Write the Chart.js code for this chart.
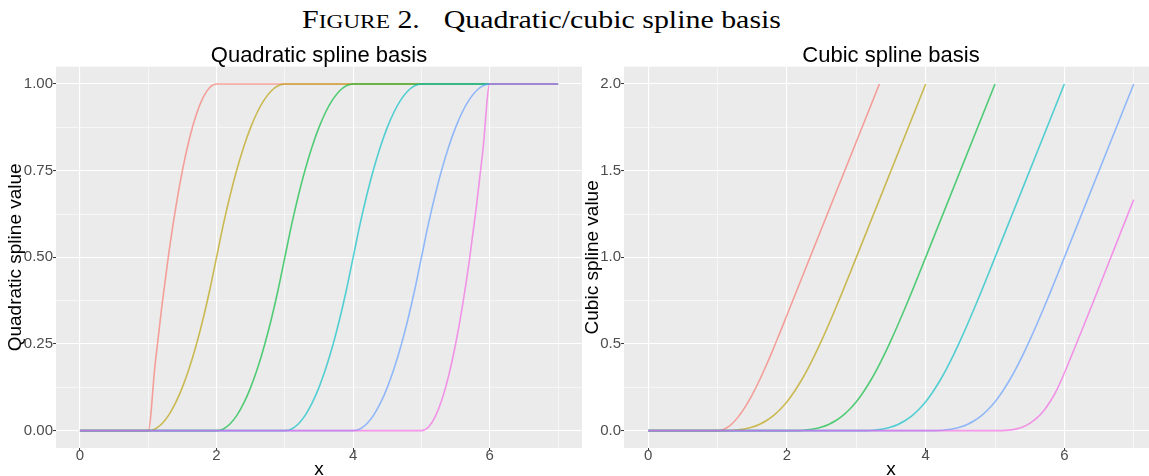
<!DOCTYPE html>
<html>
<head>
<meta charset="utf-8">
<script src="https://cdn.jsdelivr.net/npm/chart.js@4.4.1/dist/chart.umd.min.js"></script>
<style>
  html, body { margin: 0; padding: 0; background: #fff; overflow: hidden; }
  body { width: 1149px; height: 476px; position: relative; }
  #fig-title {
    position: absolute; left: 302px; top: 7px;
    font-family: 'Liberation Serif', 'DejaVu Serif', serif;
    font-size: 25px; line-height: 25px; white-space: nowrap;
    transform-origin: 0 0; color: #000;
  }
  #fig-title .lead { margin-right: 20px; }
  #fig-title small { font-size: 0.78em; }
  canvas { position: absolute; top: 0; }
  #quad { left: 0; }
  #cubic { left: 577px; }
</style>
</head>
<body>
<div id="fig-title"><span class="lead">F<small>IGURE</small> 2.</span>Quadratic/cubic spline basis</div>
<canvas id="quad" width="582" height="476"></canvas>
<canvas id="cubic" width="581" height="476"></canvas>
<script>
// basis functions, one per knot
const basisNames = ['B1', 'B2', 'B3', 'B4', 'B5', 'B6'];
const lineColors = ['#F8766D', '#B79F00', '#00BA38', '#00BFC4', '#619CFF', '#F564E3'];

// quadratic spline basis
const quadX1 = [0, 1, 1.1, 1.2, 1.3, 1.4, 1.5, 1.6, 1.7, 1.8, 1.9, 2, 7];
const quadY1 = [0, 0, 0.19, 0.36, 0.51, 0.64, 0.75, 0.84, 0.91, 0.96, 0.99, 1, 1];
const quadX2 = [0, 1, 1.1, 1.2, 1.3, 1.4, 1.5, 1.6, 1.7, 1.8, 1.9, 2, 2.1, 2.2, 2.3, 2.4, 2.5, 2.6, 2.7, 2.8, 2.9, 3, 7];
const quadY2 = [0, 0, 0.005, 0.02, 0.045, 0.08, 0.125, 0.18, 0.245, 0.32, 0.405, 0.5, 0.595, 0.68, 0.755, 0.82, 0.875, 0.92, 0.955, 0.98, 0.995, 1, 1];
const quadX3 = [0, 2, 2.1, 2.2, 2.3, 2.4, 2.5, 2.6, 2.7, 2.8, 2.9, 3, 3.1, 3.2, 3.3, 3.4, 3.5, 3.6, 3.7, 3.8, 3.9, 4, 7];
const quadY3 = [0, 0, 0.005, 0.02, 0.045, 0.08, 0.125, 0.18, 0.245, 0.32, 0.405, 0.5, 0.595, 0.68, 0.755, 0.82, 0.875, 0.92, 0.955, 0.98, 0.995, 1, 1];
const quadX4 = [0, 3, 3.1, 3.2, 3.3, 3.4, 3.5, 3.6, 3.7, 3.8, 3.9, 4, 4.1, 4.2, 4.3, 4.4, 4.5, 4.6, 4.7, 4.8, 4.9, 5, 7];
const quadY4 = [0, 0, 0.005, 0.02, 0.045, 0.08, 0.125, 0.18, 0.245, 0.32, 0.405, 0.5, 0.595, 0.68, 0.755, 0.82, 0.875, 0.92, 0.955, 0.98, 0.995, 1, 1];
const quadX5 = [0, 4, 4.1, 4.2, 4.3, 4.4, 4.5, 4.6, 4.7, 4.8, 4.9, 5, 5.1, 5.2, 5.3, 5.4, 5.5, 5.6, 5.7, 5.8, 5.9, 6, 7];
const quadY5 = [0, 0, 0.005, 0.02, 0.045, 0.08, 0.125, 0.18, 0.245, 0.32, 0.405, 0.5, 0.595, 0.68, 0.755, 0.82, 0.875, 0.92, 0.955, 0.98, 0.995, 1, 1];
const quadX6 = [0, 5, 5.1, 5.2, 5.3, 5.4, 5.5, 5.6, 5.7, 5.8, 5.9, 6, 7];
const quadY6 = [0, 0, 0.01, 0.04, 0.09, 0.16, 0.25, 0.36, 0.49, 0.64, 0.81, 1, 1];

// cubic spline basis (cut at 2.0)
const cubX1 = [0, 1, 1.1, 1.2, 1.3, 1.4, 1.5, 1.6, 1.7, 1.8, 1.9, 2, 3.333];
const cubY1 = [0, 0, 0.010, 0.037, 0.081, 0.139, 0.208, 0.288, 0.376, 0.469, 0.567, 0.667, 2];
const cubX2 = [0, 1, 1.1, 1.2, 1.3, 1.4, 1.5, 1.6, 1.7, 1.8, 1.9, 2, 2.1, 2.2, 2.3, 2.4, 2.5, 2.6, 2.7, 2.8, 2.9, 3, 4];
const cubY2 = [0, 0, 0.0002, 0.001, 0.005, 0.011, 0.021, 0.036, 0.057, 0.085, 0.122, 0.167, 0.222, 0.285, 0.357, 0.436, 0.521, 0.611, 0.705, 0.801, 0.9, 1, 2];
const cubX3 = [0, 2, 2.1, 2.2, 2.3, 2.4, 2.5, 2.6, 2.7, 2.8, 2.9, 3, 3.1, 3.2, 3.3, 3.4, 3.5, 3.6, 3.7, 3.8, 3.9, 4, 5];
const cubY3 = [0, 0, 0.0002, 0.001, 0.005, 0.011, 0.021, 0.036, 0.057, 0.085, 0.122, 0.167, 0.222, 0.285, 0.357, 0.436, 0.521, 0.611, 0.705, 0.801, 0.9, 1, 2];
const cubX4 = [0, 3, 3.1, 3.2, 3.3, 3.4, 3.5, 3.6, 3.7, 3.8, 3.9, 4, 4.1, 4.2, 4.3, 4.4, 4.5, 4.6, 4.7, 4.8, 4.9, 5, 6];
const cubY4 = [0, 0, 0.0002, 0.001, 0.005, 0.011, 0.021, 0.036, 0.057, 0.085, 0.122, 0.167, 0.222, 0.285, 0.357, 0.436, 0.521, 0.611, 0.705, 0.801, 0.9, 1, 2];
const cubX5 = [0, 4, 4.1, 4.2, 4.3, 4.4, 4.5, 4.6, 4.7, 4.8, 4.9, 5, 5.1, 5.2, 5.3, 5.4, 5.5, 5.6, 5.7, 5.8, 5.9, 6, 7];
const cubY5 = [0, 0, 0.0002, 0.001, 0.005, 0.011, 0.021, 0.036, 0.057, 0.085, 0.122, 0.167, 0.222, 0.285, 0.357, 0.436, 0.521, 0.611, 0.705, 0.801, 0.9, 1, 2];
const cubX6 = [0, 5, 5.1, 5.2, 5.3, 5.4, 5.5, 5.6, 5.7, 5.8, 5.9, 6, 7];
const cubY6 = [0, 0, 0.0003, 0.003, 0.009, 0.021, 0.042, 0.072, 0.114, 0.171, 0.243, 0.333, 1.333];

// axis ticks
const xTicks = [0, 1, 2, 3, 4, 5, 6, 7];
const xMajor = [0, 2, 4, 6];
const quadYTicks = [0, 0.125, 0.25, 0.375, 0.5, 0.625, 0.75, 0.875, 1];
const quadYMajor = [0, 0.25, 0.5, 0.75, 1];
const quadYLabels = ['0.00', '0.25', '0.50', '0.75', '1.00'];
const cubYTicks = [0, 0.25, 0.5, 0.75, 1, 1.25, 1.5, 1.75, 2];
const cubYMajor = [0, 0.5, 1, 1.5, 2];
const cubYLabels = ['0.0', '0.5', '1.0', '1.5', '2.0'];

const tickFont = { family: 'Liberation Sans', size: 15, lineHeight: 0.65 };

const panelBackground = {
  id: 'panelBackground',
  beforeDraw(chart) {
    const a = chart.chartArea;
    const ctx = chart.ctx;
    ctx.save();
    ctx.fillStyle = '#EBEBEB';
    ctx.fillRect(a.left, a.top, a.right - a.left, a.bottom - a.top);
    ctx.restore();
  }
};

function gridFor(major) {
  const isMajor = ctx => ctx.tick && major.includes(ctx.tick.value);
  return {
    color: '#FFFFFF',
    lineWidth: ctx => isMajor(ctx) ? 1.1 : 0.55,
    drawTicks: true,
    tickLength: 3,
    tickWidth: 1,
    tickColor: ctx => isMajor(ctx) ? '#333333' : 'rgba(0,0,0,0)'
  };
}

function makePanel(id, p) {
  const datasets = p.xs.map((xs, i) => ({
    label: basisNames[i],
    data: xs.map((x, j) => ({ x: x, y: p.ys[i][j] })),
    borderColor: lineColors[i] + 'A8',
    borderWidth: 1.6,
    pointRadius: 0,
    cubicInterpolationMode: 'monotone',
    fill: false,
    order: basisNames.length - i
  }));

  return new Chart(document.getElementById(id), {
    type: 'line',
    data: { datasets },
    options: {
      responsive: false,
      animation: false,
      devicePixelRatio: 1,
      layout: { padding: { top: 44.7, left: 0, right: 0, bottom: 0 } },
      plugins: {
        legend: { display: false },
        tooltip: { enabled: false },
        title: {
          display: true,
          text: p.title,
          fullSize: false,
          color: '#000',
          padding: 0,
          font: { family: 'Liberation Sans', size: 22, weight: 'normal', lineHeight: 1 }
        }
      },
      scales: {
        x: {
          type: 'linear',
          min: -0.35,
          max: 7.35,
          afterBuildTicks: s => { s.ticks = xTicks.map(v => ({ value: v })); },
          afterFit: s => { s.height = 28; },
          border: { display: false },
          grid: gridFor(xMajor),
          ticks: {
            autoSkip: false,
            maxRotation: 0,
            padding: 0,
            color: '#4D4D4D',
            font: tickFont,
            callback: v => xMajor.includes(v) ? String(v) : ''
          },
          title: {
            display: true,
            text: 'x',
            color: '#000',
            padding: 0,
            font: { family: 'Liberation Sans', size: 19, lineHeight: 0.7 }
          }
        },
        y: {
          type: 'linear',
          min: p.yMin,
          max: p.yMax,
          afterBuildTicks: s => { s.ticks = p.yTicks.map(v => ({ value: v })); },
          afterFit: s => { s.width = p.yWidth; },
          border: { display: false },
          grid: gridFor(p.yMajor),
          ticks: {
            autoSkip: false,
            padding: 0,
            color: '#4D4D4D',
            font: tickFont,
            callback: v => {
              const k = p.yMajor.indexOf(v);
              return k >= 0 ? p.yLabels[k] : '';
            }
          },
          title: {
            display: true,
            text: p.yTitle,
            color: '#000',
            padding: { top: 4.5, bottom: 0 },
            font: { family: 'Liberation Sans', size: 19, lineHeight: 1.2 }
          }
        }
      }
    },
    plugins: [panelBackground]
  });
}

makePanel('quad', {
  title: 'Quadratic spline basis',
  yTitle: 'Quadratic spline value',
  xs: [quadX1, quadX2, quadX3, quadX4, quadX5, quadX6],
  ys: [quadY1, quadY2, quadY3, quadY4, quadY5, quadY6],
  yMin: -0.05, yMax: 1.05,
  yTicks: quadYTicks, yMajor: quadYMajor, yLabels: quadYLabels,
  yWidth: 56
});

makePanel('cubic', {
  title: 'Cubic spline basis',
  yTitle: 'Cubic spline value',
  xs: [cubX1, cubX2, cubX3, cubX4, cubX5, cubX6],
  ys: [cubY1, cubY2, cubY3, cubY4, cubY5, cubY6],
  yMin: -0.1, yMax: 2.1,
  yTicks: cubYTicks, yMajor: cubYMajor, yLabels: cubYLabels,
  yWidth: 47
});

// stretch the figure caption to its printed width
const figTitle = document.getElementById('fig-title');
const titleWidth = figTitle.getBoundingClientRect().width;
figTitle.style.transform = 'scaleX(' + (479 / titleWidth) + ')';
</script>
</body>
</html>
